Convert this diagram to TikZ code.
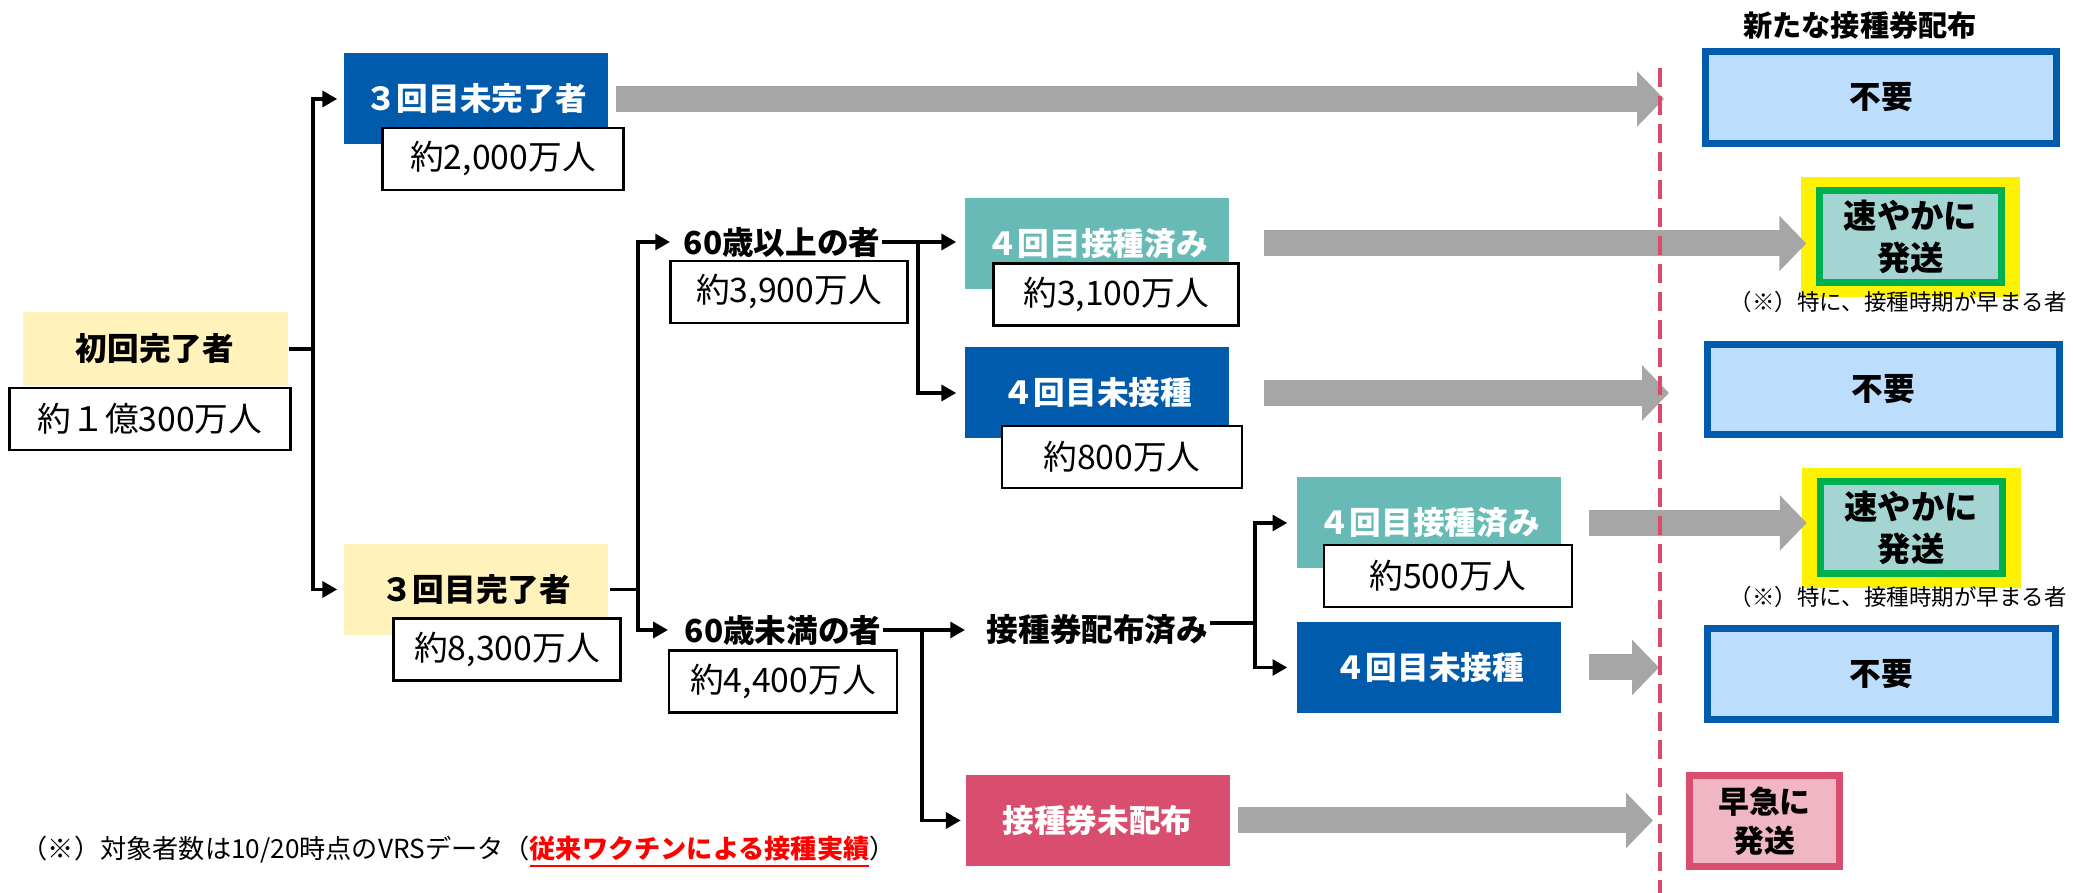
\documentclass[tikz,border=0pt]{standalone}
\usepackage{fontspec}
\setmainfont{Noto Sans CJK JP}
\usepackage{tikz}
\usetikzlibrary{arrows.meta}
\usetikzlibrary{positioning}

\definecolor{kyellow}{HTML}{FFF2BA}
\definecolor{kblue}{HTML}{005BAC}
\definecolor{kteal}{HTML}{67BAB6}
\definecolor{kpink}{HTML}{D94D6F}
\definecolor{kgray}{HTML}{A6A6A6}
\definecolor{lblue}{HTML}{BDDDFC}
\definecolor{kgreen}{HTML}{00B050}
\definecolor{lteal}{HTML}{A5D5D3}
\definecolor{lpink}{HTML}{F0B6C4}
\definecolor{kdash}{HTML}{DB4A6B}

\tikzset{
    grpbox/.style={
           rectangle,
           inner sep=0pt,
           minimum width=2.64cm,
           minimum height=0.91cm,
           text=white,
           font=\fontsize{9}{11}\selectfont\bfseries,
           text centered,
           },
}
\tikzset{
    numbox/.style={
           rectangle,
           draw=black, thick,
           fill=white,
           inner sep=0pt,
           minimum height=0.62cm,
           font=\fontsize{9.6}{11}\selectfont,
           text centered,
           },
}
\tikzset{
    agetext/.style={
           inner sep=0pt,
           anchor=west,
           font=\fontsize{9}{11}\selectfont\bfseries,
           },
}
\tikzset{
    resbox/.style={
           rectangle,
           draw=kblue, line width=2pt,
           fill=lblue,
           inner sep=0pt,
           font=\fontsize{9}{11}\selectfont\bfseries,
           text centered,
           },
}
\tikzset{
    soonbox/.style={
           rectangle,
           draw=kgreen, line width=2pt,
           fill=lteal,
           inner sep=0pt,
           minimum width=1.82cm,
           minimum height=0.92cm,
           align=center,
           font=\fontsize{9.5}{12}\selectfont\bfseries,
           },
}
\tikzset{
    marker/.style={
           rectangle,
           fill=yellow,
           inner sep=0pt,
           minimum width=2.19cm,
           minimum height=1.20cm,
           },
}
\tikzset{
    notetext/.style={
           inner sep=0pt,
           anchor=west,
           font=\fontsize{6.4}{8}\selectfont,
           },
}
\tikzset{
    fatarrow/.style={
           draw=kgray,
           line width=0.26cm,
           -{Triangle[length=0.27cm,width=0.54cm]},
           },
}

\begin{document}
\begin{tikzpicture}[>={Triangle[length=4.2pt,width=4.5pt]}, line width=1pt]

 \useasboundingbox (0,0) rectangle (20.73,8.93);

 % left tree
 \node[grpbox, fill=kyellow, text=black,
  minimum width=2.65cm, minimum height=0.74cm] (FIRST) at (1.55,5.44)
 {初回完了者};
 \node[numbox,
  minimum width=2.81cm,
  node distance=0.70cm,
  below of=FIRST,
  xshift=-0.05cm] (FIRSTn)
 {約１億300万人};

 \node[grpbox, fill=kblue] (NO3) at (4.76,7.94) {３回目未完了者};
 \node[numbox,
  minimum width=2.41cm,
  node distance=0.60cm,
  below of=NO3,
  xshift=0.27cm] (NO3n)
 {約2,000万人};

 \node[grpbox, fill=kyellow, text=black] (DONE3) at (4.76,3.035) {３回目完了者};
 \node[numbox,
  minimum width=2.27cm,
  node distance=0.60cm,
  below of=DONE3,
  xshift=0.31cm] (DONE3n)
 {約8,300万人};

 \node[agetext] (OV60) at (6.82,6.51) {60歳以上の者};
 \node[numbox, minimum width=2.37cm] (OV60n) at (7.89,6.01) {約3,900万人};

 \node[grpbox, fill=kteal] (GOT4a) at (10.97,6.495) {４回目接種済み};
 \node[numbox,
  minimum width=2.45cm,
  node distance=0.51cm,
  below of=GOT4a,
  xshift=0.19cm] (GOT4an)
 {約3,100万人};

 \node[grpbox, fill=kblue] (NOT4a) at (10.97,5.00) {４回目未接種};
 \node[numbox,
  minimum width=2.40cm,
  node distance=0.64cm,
  below of=NOT4a,
  xshift=0.25cm] (NOT4an)
 {約800万人};

 \node[agetext] (UN60) at (6.83,2.63) {60歳未満の者};
 \node[numbox, minimum width=2.28cm] (UN60n) at (7.83,2.115) {約4,400万人};

 \node[agetext] (TKT) at (9.85,2.63) {接種券配布済み};

 \node[grpbox, fill=kteal] (GOT4b) at (14.29,3.70) {４回目接種済み};
 \node[numbox,
  minimum width=2.48cm,
  node distance=0.53cm,
  below of=GOT4b,
  xshift=0.19cm] (GOT4bn)
 {約500万人};

 \node[grpbox, fill=kblue] (NOT4b) at (14.29,2.255) {４回目未接種};
 \node[grpbox, fill=kpink] (NOTKT) at (10.975,0.725) {接種券未配布};

 % right column
 \node[font=\fontsize{8.3}{10}\selectfont\bfseries] (HEAD) at (18.60,8.68) {新たな接種券配布};
 \node[resbox, minimum width=3.51cm, minimum height=0.92cm] (NEED1) at (18.81,7.955) {不要};
 \node[marker] (HL1) at (19.105,6.56) {};
 \node[soonbox] (SOON1) at (HL1.center) {速やかに\\発送};
 \node[notetext] (NOTE1) at (17.28,5.91) {（※）特に、接種時期が早まる者};
 \node[resbox, minimum width=3.52cm, minimum height=0.90cm] (NEED2) at (18.835,5.035) {不要};
 \node[marker] (HL2) at (19.11,3.65) {};
 \node[soonbox] (SOON2) at (HL2.center) {速やかに\\発送};
 \node[notetext] (NOTE2) at (17.28,2.96) {（※）特に、接種時期が早まる者};
 \node[resbox, minimum width=3.48cm, minimum height=0.91cm] (NEED3) at (18.815,2.19) {不要};
 \node[resbox, draw=kpink, fill=lpink,
  minimum width=1.50cm, minimum height=0.91cm,
  align=center, font=\fontsize{8.8}{11}\selectfont\bfseries] (RUSH) at (17.645,0.72)
 {早急に\\発送};

 \node[notetext, font=\fontsize{7.45}{9}\selectfont] (FOOT) at (0.20,0.41)
 {（※）対象者数は10/20時点のVRSデータ（\textcolor{red}{\textbf{\underline{従来ワクチンによる接種実績}}}）};

 % junctions
 \coordinate (J1) at (3.13,5.44);
 \coordinate (J2) at (6.38,3.035);
 \coordinate (J3) at (9.18,6.51);
 \coordinate (J4) at (9.22,2.63);
 \coordinate (J5) at (12.55,2.70);
 \coordinate (DL) at (16.60,0);
 \coordinate (DLtop) at (16.60,8.25);

 \draw (FIRST.east) -- (J1);
 \draw[->, shorten >=0.05cm] (J1) |- (NO3.west);
 \draw[->, shorten >=0.05cm] (J1) |- (DONE3.west);

 \draw (DONE3.east) -- (J2);
 \draw[->] (J2) |- ([xshift=-0.12cm]OV60.west);
 \draw[->] (J2) |- ([xshift=-0.15cm]UN60.west);

 \draw[->, shorten >=0.07cm] (OV60.east) -- (OV60.east -| GOT4a.west);
 \draw[->, shorten >=0.07cm] (J3) |- (NOT4a.west);

 \draw[->] (UN60.east) -- ([xshift=-0.2cm]TKT.west);
 \draw[->, shorten >=0.03cm] (J4) |- (NOTKT.west);

 \draw (TKT.east |- J5) -- (J5);
 \draw[->, shorten >=0.08cm] (J5) |- (GOT4b.west);
 \draw[->, shorten >=0.08cm] (J5) |- (NOT4b.west);

 % gray arrows
 \draw[fatarrow] ([xshift=0.06cm]NO3.east) -- ([xshift=0.04cm]NO3.east -| DL);
 \draw[fatarrow] ([xshift=0.335cm]GOT4a.east) -- ([xshift=0.07cm]GOT4a.east -| HL1.west);
 \draw[fatarrow] ([xshift=0.335cm]NOT4a.east) -- ([xshift=0.09cm]NOT4a.east -| DL);
 \draw[fatarrow] ([xshift=0.26cm]GOT4b.east) -- ([xshift=0.07cm]GOT4b.east -| HL2.west);
 \draw[fatarrow] ([xshift=0.26cm]NOT4b.east) -- ([xshift=-0.01cm]NOT4b.east -| DL);
 \draw[fatarrow] ([xshift=0.07cm]NOTKT.east) -- ([xshift=-0.07cm]NOTKT.east -| DL);

 \draw[kdash, dash pattern=on 0.19cm off 0.09cm] (DLtop) -- (DL);

\end{tikzpicture}
\end{document}
